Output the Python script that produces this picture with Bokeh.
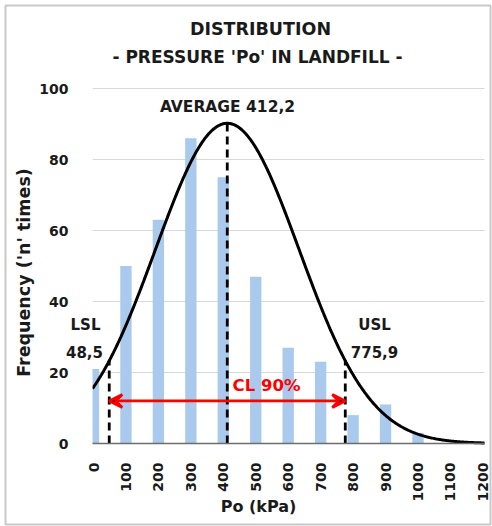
import numpy as np
from bokeh.plotting import figure
from bokeh.models import (ColumnDataSource, Label, Arrow, VeeHead, BoxAnnotation,
                          FixedTicker, Range1d)
from bokeh.embed import file_html
from bokeh.resources import INLINE

# Histogram of pressure readings (kPa) and their counts
bin_centers = [0, 100, 200, 300, 400, 500, 600, 700, 800, 900, 1000, 1100, 1200]
frequency = [21, 50, 63, 86, 75, 47, 27, 23, 8, 11, 3, 0, 0]
x_ticks = [0, 100, 200, 300, 400, 500, 600, 700, 800, 900, 1000, 1100, 1200]
y_ticks = [0, 20, 40, 60, 80, 100]

# Fitted normal distribution and 90 % confidence limits
mean_po = 412.2
lsl = 48.5
usl = 775.9
z_90 = 1.645
peak_freq = 90.2

sigma = (usl - lsl) / (2 * z_90)


def fitted(x):
    x = np.asarray(x, dtype=float)
    return peak_freq * np.exp(-0.5 * ((x - mean_po) / sigma) ** 2)


def comma(v):
    return f"{v}".replace(".", ",")


W, H = 492, 526
FONT = "DejaVu Sans"

# The plotting frame fills the whole canvas; the axes sit at fixed
# data locations so text outside the data area is never clipped.
X0_PX, KPA_PX = 93.0, 0.3245      # canvas x of 0 kPa, pixels per kPa
Y0_PX, UNIT_PX = 443.0, 3.55      # canvas y of 0 counts, pixels per count
x_lo, x_hi = -3, 1205             # extent of the data area (kPa)

p = figure(width=W, height=H, output_backend="svg", toolbar_location=None,
           x_range=Range1d(-X0_PX / KPA_PX, (W - X0_PX) / KPA_PX),
           y_range=Range1d(-(H - Y0_PX) / UNIT_PX, Y0_PX / UNIT_PX),
           min_border=0)
p.outline_line_color = None
p.background_fill_color = "white"
p.border_fill_color = "white"
p.xgrid.visible = False
p.ygrid.visible = False

# horizontal gridlines
p.segment(x0=[x_lo] * len(y_ticks), x1=[x_hi] * len(y_ticks), y0=y_ticks, y1=y_ticks,
          line_color="#D9D9D9", line_width=1, level="underlay")

# bars
src = ColumnDataSource(dict(x=bin_centers, top=frequency))
p.vbar(x="x", top="top", width=35, bottom=0, source=src,
       fill_color="#A9CAEC", line_color=None)

# fitted curve
xs = np.linspace(x_lo, x_hi, 400)
p.line(xs, fitted(xs), line_color="black", line_width=3)

# limit and mean markers
for xv in (lsl, mean_po, usl):
    p.line([xv, xv], [0, float(fitted(xv))], line_color="black",
           line_width=2.8, line_dash="8 5")

# mask everything left of the data area
p.add_layout(BoxAnnotation(left=-500, right=x_lo, bottom=-50, top=150,
                           fill_color="white", fill_alpha=1.0, line_color=None))

# confidence interval arrow
arrow_y = 12
p.add_layout(Arrow(x_start=lsl, y_start=arrow_y, x_end=usl, y_end=arrow_y,
                   line_color="#FF0000", line_width=2.8,
                   start=VeeHead(size=13, line_color="#FF0000", line_width=2.8),
                   end=VeeHead(size=13, line_color="#FF0000", line_width=2.8)))

# axes
p.xaxis.fixed_location = 0
p.yaxis.fixed_location = x_lo
p.xaxis.bounds = (x_lo, x_hi)
p.yaxis.bounds = (0, 100)
p.xaxis.ticker = FixedTicker(ticks=x_ticks)
p.yaxis.ticker = FixedTicker(ticks=y_ticks)
for ax in (p.xaxis, p.yaxis):
    ax.major_tick_line_color = None
    ax.minor_tick_line_color = None
    ax.major_label_text_font = FONT
    ax.major_label_text_font_style = "bold"
    ax.major_label_text_font_size = "14px"
    ax.major_label_text_color = "#1A1A1A"
    ax.level = "overlay"
p.yaxis.axis_line_color = None
p.yaxis.major_label_standoff = 18
p.xaxis.axis_line_color = "#6E6E6E"
p.xaxis.axis_line_width = 1.5
p.xaxis.major_label_orientation = np.pi / 2
p.xaxis.major_label_standoff = 13


def canvas_label(cx, cy, text, size, color="#1A1A1A", angle=0.0):
    # place text by canvas pixel position
    p.add_layout(Label(x=cx, y=H - cy, x_units="screen", y_units="screen",
                       text=text, text_font=FONT, text_font_style="bold",
                       text_font_size=size, text_color=color,
                       text_align="center", text_baseline="middle", angle=angle))


canvas_label(260, 28, "DISTRIBUTION", "17.5px")
canvas_label(257, 56, "- PRESSURE 'Po' IN LANDFILL -", "17px")
canvas_label(227, 106, "AVERAGE " + comma(mean_po), "15.5px")
canvas_label(85, 324, "LSL", "15px")
canvas_label(84, 351, comma(lsl), "15px")
canvas_label(374, 324, "USL", "15px")
canvas_label(374, 351, comma(usl), "15px")
canvas_label(266, 385, "CL 90%", "16.5px", color="#FF0000")
canvas_label(23, 272, "Frequency ('n' times)", "17.5px", angle=np.pi / 2)
canvas_label(258, 506, "Po (kPa)", "16px")

# chart border
p.add_layout(BoxAnnotation(left=5, right=490, top=H - 5, bottom=H - 524,
                           left_units="screen", right_units="screen",
                           top_units="screen", bottom_units="screen",
                           fill_color=None, line_color="#4D4D4D", line_width=2))

open("out.html", "w").write(file_html(p, INLINE))
